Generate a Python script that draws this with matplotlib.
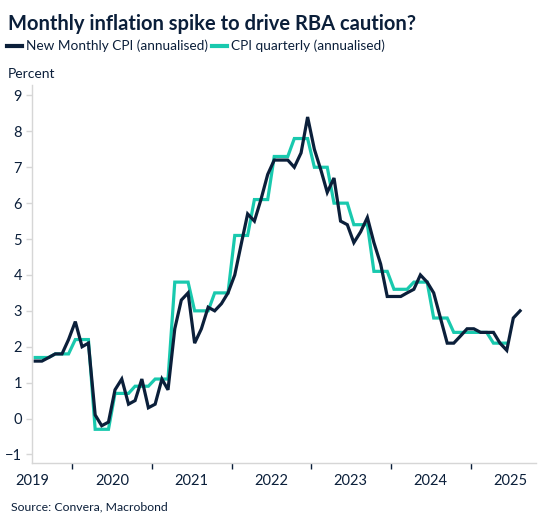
import matplotlib
matplotlib.use('Agg')
import matplotlib.pyplot as plt
import pandas as pd
import numpy as np

plt.rcParams['font.family'] = ['Lato', 'DejaVu Sans']

# Monthly CPI, Jul 2019 - Aug 2025 (annual % change)
monthly_cpi = [
    1.6, 1.6, 1.7, 1.8, 1.8, 2.2,                                # 2019 Jul-Dec
    2.7, 2.0, 2.1, 0.1, -0.2, -0.1, 0.8, 1.1, 0.4, 0.5, 1.1, 0.3,  # 2020
    0.4, 1.1, 0.8, 2.5, 3.3, 3.5, 2.1, 2.5, 3.1, 3.0, 3.2, 3.5,    # 2021
    4.0, 4.9, 5.7, 5.5, 6.1, 6.8, 7.2, 7.2, 7.2, 7.0, 7.4, 8.4,    # 2022
    7.5, 6.9, 6.3, 6.7, 5.5, 5.4, 4.9, 5.2, 5.6, 4.9, 4.3, 3.4,    # 2023
    3.4, 3.4, 3.5, 3.6, 4.0, 3.8, 3.5, 2.8, 2.1, 2.1, 2.3, 2.5,    # 2024
    2.5, 2.4, 2.4, 2.4, 2.1, 1.9, 2.8, 3.0,                        # 2025 Jan-Aug
]

# Quarterly CPI, Q3 2019 - Q2 2025
quarterly_cpi = [
    1.7, 1.8,
    2.2, -0.3, 0.7, 0.9,
    1.1, 3.8, 3.0, 3.5,
    5.1, 6.1, 7.3, 7.8,
    7.0, 6.0, 5.4, 4.1,
    3.6, 3.8, 2.8, 2.4,
    2.4, 2.1,
]

years = [2019, 2020, 2021, 2022, 2023, 2024, 2025]

navy = '#0b1f3a'
teal = '#19c9ae'
grey = '#d6d6d6'

monthly_dates = pd.date_range('2019-07-01', periods=len(monthly_cpi), freq='MS') + pd.Timedelta(days=14)
# quarterly value held over each month of its quarter
quarterly_monthly = np.repeat(quarterly_cpi, 3)
quarterly_dates = pd.date_range('2019-07-01', periods=len(quarterly_monthly), freq='MS') + pd.Timedelta(days=14)

fig = plt.figure(figsize=(5.52, 5.25), dpi=100)
ax = fig.add_axes([0.0574, 0.1187, 0.9136, 0.7193])

ax.plot(quarterly_dates, quarterly_monthly, color=teal, linewidth=2.3,
        label='CPI quarterly (annualised)', solid_joinstyle='miter')
ax.plot(monthly_dates, monthly_cpi, color=navy, linewidth=2.3,
        label='New Monthly CPI (annualised)', solid_joinstyle='miter')

ax.set_ylim(-1.23, 9.29)
ax.set_yticks(range(-1, 10))
ax.set_xlim(pd.Timestamp('2019-06-29'), pd.Timestamp('2025-10-27'))

# year boundaries as ticks, labels at mid-year
ax.set_xticks([pd.Timestamp(f'{y}-01-01') for y in years[1:]])
ax.set_xticklabels([])
ax.set_xticks([pd.Timestamp(f'{y}-07-01') for y in years], minor=True)
ax.set_xticklabels([str(y) for y in years], minor=True)
ax.tick_params(axis='x', which='major', length=4, width=1, color=navy)
ax.tick_params(axis='x', which='minor', length=0, pad=8, labelsize=10.5, labelcolor=navy)
ax.tick_params(axis='y', length=4, width=1, color=grey, labelsize=10.5, labelcolor=navy, pad=3)

for side in ['top', 'right']:
    ax.spines[side].set_visible(False)
for side in ['left', 'bottom']:
    ax.spines[side].set_color(grey)
    ax.spines[side].set_linewidth(1)

fig.text(0.0145, 0.955, 'Monthly inflation spike to drive RBA caution?',
         fontsize=14.5, fontweight='bold', color=navy, va='center', ha='left')
fig.text(0.0145, 0.859, 'Percent', fontsize=10, color=navy, va='center', ha='left')
fig.text(0.02, 0.034, 'Source: Convera, Macrobond', fontsize=8.8, color=navy,
         va='center', ha='left')

handles, labels = ax.get_legend_handles_labels()
leg = fig.legend(handles[::-1], labels[::-1], loc='center left',
                 bbox_to_anchor=(0.003, 0.912), ncol=2, frameon=False,
                 fontsize=9.8, handlelength=1.1, handletextpad=0.3,
                 columnspacing=0.25, borderaxespad=0)
for t in leg.get_texts():
    t.set_color(navy)
for h in leg.get_lines():
    h.set_linewidth(3)

plt.savefig('out.png', dpi=100)
